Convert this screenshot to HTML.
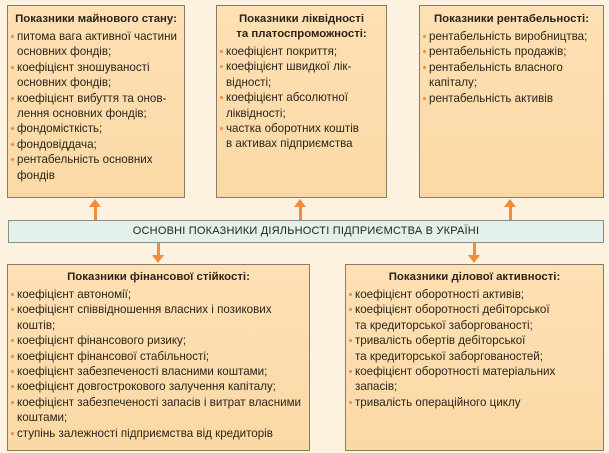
<!DOCTYPE html>
<html><head><meta charset="utf-8"><style>
html,body{margin:0;padding:0;}
body{width:609px;height:453px;background:#fdf1df;position:relative;overflow:hidden;font-family:"Liberation Sans","DejaVu Sans",sans-serif;color:#2a2418;}
.box{position:absolute;background:linear-gradient(#fde0b4,#fbd9a6);border:1px solid #8a7a66;box-sizing:border-box;font-size:11.6px;line-height:15.4px;white-space:nowrap;}
.box h{display:block;font-weight:bold;text-align:center;font-size:11.4px;margin-top:6px;margin-bottom:2px;line-height:15px;}
.box ul{margin:0;padding:0 0 0 9px;list-style:none;}
.box li{position:relative;padding-left:0;}
.box li:before{content:"";position:absolute;left:-6px;top:6px;width:3px;height:3px;background:#f08a3c;border-radius:50%;}
.center{position:absolute;left:8px;top:220px;width:596px;height:23px;background:#e3f1ea;border:1px solid #8a8f86;box-sizing:border-box;text-align:center;font-size:11px;line-height:21px;letter-spacing:0.2px;}
.arr{position:absolute;width:3px;background:#f28c3a;}
.up{position:absolute;width:0;height:0;border-left:6px solid transparent;border-right:6px solid transparent;border-bottom:8px solid #f28c3a;}
.dn{position:absolute;width:0;height:0;border-left:6px solid transparent;border-right:6px solid transparent;border-top:8px solid #f28c3a;}
</style></head><body>
<div class="box" style="left:7px;top:5px;width:178px;height:193px;"><h>Показники майнового стану:</h><ul>
<li>питома вага активної частини<br>основних фондів;</li>
<li>коефіцієнт зношуваності<br>основних фондів;</li>
<li>коефіцієнт вибуття та онов-<br>лення основних фондів;</li>
<li>фондомісткість;</li>
<li>фондовіддача;</li>
<li>рентабельність основних<br>фондів</li></ul></div>
<div class="box" style="left:216px;top:5px;width:171px;height:193px;"><h>Показники ліквідності<br>та платоспроможності:</h><ul>
<li>коефіцієнт покриття;</li>
<li>коефіцієнт швидкої лік-<br>відності;</li>
<li>коефіцієнт абсолютної<br>ліквідності;</li>
<li>частка оборотних коштів<br>в активах підприємства</li></ul></div>
<div class="box" style="left:419px;top:5px;width:185px;height:193px;"><h>Показники рентабельності:</h><ul>
<li>рентабельність виробництва;</li>
<li>рентабельність продажів;</li>
<li>рентабельність власного<br>капіталу;</li>
<li>рентабельність активів</li></ul></div>
<div class="center">ОСНОВНІ ПОКАЗНИКИ ДІЯЛЬНОСТІ ПІДПРИЄМСТВА В УКРАЇНІ</div>
<div class="box" style="left:7px;top:264px;width:303px;height:187px;"><h style="margin-top:5px">Показники фінансової стійкості:</h><ul>
<li>коефіцієнт автономії;</li>
<li>коефіцієнт співвідношення власних і позикових<br>коштів;</li>
<li>коефіцієнт фінансового ризику;</li>
<li>коефіцієнт фінансової стабільності;</li>
<li>коефіцієнт забезпеченості власними коштами;</li>
<li>коефіцієнт довгострокового залучення капіталу;</li>
<li>коефіцієнт забезпеченості запасів і витрат власними<br>коштами;</li>
<li>ступінь залежності підприємства від кредиторів</li></ul></div>
<div class="box" style="left:345px;top:264px;width:259px;height:187px;"><h style="margin-top:5px">Показники ділової активності:</h><ul>
<li>коефіцієнт оборотності активів;</li>
<li>коефіцієнт оборотності дебіторської<br>та кредиторської заборгованості;</li>
<li>тривалість обертів дебіторської<br>та кредиторської заборгованостей;</li>
<li>коефіцієнт оборотності матеріальних<br>запасів;</li>
<li>тривалість операційного циклу</li></ul></div>
<div class="up" style="left:89px;top:199px"></div><div class="arr" style="left:94px;top:206px;height:14px"></div>
<div class="up" style="left:294px;top:199px"></div><div class="arr" style="left:299px;top:206px;height:14px"></div>
<div class="up" style="left:504px;top:199px"></div><div class="arr" style="left:509px;top:206px;height:14px"></div>
<div class="arr" style="left:157px;top:243px;height:13px"></div><div class="dn" style="left:152px;top:255px"></div>
<div class="arr" style="left:473px;top:243px;height:13px"></div><div class="dn" style="left:468px;top:255px"></div>
</body></html>
